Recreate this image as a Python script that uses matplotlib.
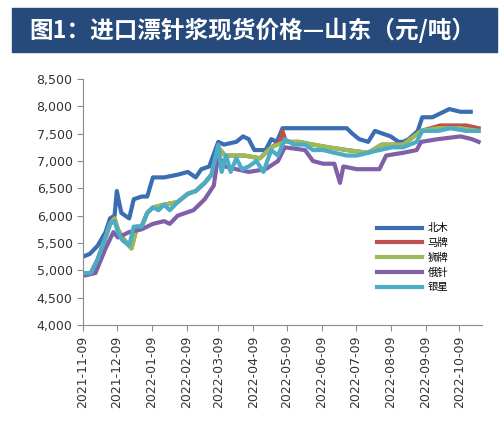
import numpy as np
import pandas as pd
import matplotlib
matplotlib.use("Agg")
import matplotlib.pyplot as plt
import matplotlib.dates as mdates
from matplotlib.patches import Rectangle
from matplotlib.ticker import FuncFormatter

# 北木
bm_dates = ["2021-11-09", "2021-11-15", "2021-11-22", "2021-11-29", "2021-12-03", "2021-12-07",
            "2021-12-09", "2021-12-13", "2021-12-20", "2021-12-24", "2021-12-31", "2022-01-05",
            "2022-01-10", "2022-01-20", "2022-02-01", "2022-02-10", "2022-02-17", "2022-02-22",
            "2022-03-01", "2022-03-09", "2022-03-14", "2022-03-25", "2022-03-31", "2022-04-05",
            "2022-04-10", "2022-04-20", "2022-04-25", "2022-04-30", "2022-05-05", "2022-05-31",
            "2022-06-15", "2022-07-01", "2022-07-06", "2022-07-12", "2022-07-20", "2022-07-26",
            "2022-08-02", "2022-08-09", "2022-08-16", "2022-08-20", "2022-08-25", "2022-09-02",
            "2022-09-06", "2022-09-15", "2022-09-25", "2022-09-30", "2022-10-10", "2022-10-19"]
bm_vals = [5250, 5300, 5450, 5700, 5950, 6000,
           6450, 6050, 5950, 6300, 6350, 6350,
           6700, 6700, 6750, 6800, 6700, 6850,
           6900, 7350, 7300, 7350, 7450, 7400,
           7200, 7200, 7400, 7350, 7600, 7600,
           7600, 7600, 7500, 7400, 7350, 7550,
           7500, 7450, 7350, 7350, 7400, 7550,
           7800, 7800, 7900, 7950, 7900, 7900]

# 银星
yx_dates = ["2021-11-09", "2021-11-16", "2021-11-22", "2021-11-29", "2021-12-03", "2021-12-07",
            "2021-12-10", "2021-12-14", "2021-12-20", "2021-12-24", "2021-12-31", "2022-01-05",
            "2022-01-10", "2022-01-15", "2022-01-20", "2022-01-25", "2022-02-01", "2022-02-10",
            "2022-02-17", "2022-02-25", "2022-03-03", "2022-03-09", "2022-03-12", "2022-03-16",
            "2022-03-20", "2022-03-25", "2022-03-30", "2022-04-05", "2022-04-12", "2022-04-18",
            "2022-04-25", "2022-05-01", "2022-05-07", "2022-05-15", "2022-05-25", "2022-06-01",
            "2022-06-10", "2022-06-20", "2022-07-01", "2022-07-10", "2022-07-20", "2022-07-30",
            "2022-08-10", "2022-08-20", "2022-09-01", "2022-09-06", "2022-09-20", "2022-10-01",
            "2022-10-15", "2022-10-26"]
yx_vals = [4950, 4950, 5200, 5600, 5850, 5900,
           5700, 5550, 5450, 5800, 5800, 6050,
           6150, 6100, 6200, 6100, 6250, 6400,
           6450, 6600, 6750, 7300, 6800, 7100,
           6800, 7050, 6850, 6900, 7000, 6800,
           7200, 7100, 7400, 7300, 7300, 7200,
           7200, 7150, 7100, 7100, 7150, 7200,
           7250, 7250, 7350, 7550, 7550, 7600,
           7550, 7550]

# 俄针
ez_dates = ["2021-11-09", "2021-11-20", "2021-11-29", "2021-12-06", "2021-12-10", "2021-12-20",
            "2021-12-31", "2022-01-10", "2022-01-20", "2022-01-25", "2022-02-01", "2022-02-15",
            "2022-02-25", "2022-03-05", "2022-03-09", "2022-03-15", "2022-03-25", "2022-04-05",
            "2022-04-20", "2022-05-01", "2022-05-07", "2022-05-25", "2022-06-01", "2022-06-10",
            "2022-06-20", "2022-06-25", "2022-06-28", "2022-07-10", "2022-07-30", "2022-08-05",
            "2022-08-20", "2022-09-01", "2022-09-05", "2022-09-20", "2022-10-10", "2022-10-20",
            "2022-10-26"]
ez_vals = [4900, 4950, 5400, 5700, 5600, 5700,
           5750, 5850, 5900, 5850, 6000, 6100,
           6300, 6550, 7100, 6900, 6850, 6800,
           6850, 7000, 7250, 7200, 7000, 6950,
           6950, 6600, 6900, 6850, 6850, 7100,
           7150, 7200, 7350, 7400, 7450, 7400,
           7350]

# 狮牌
sp_dates = ["2021-11-09", "2021-11-16", "2021-11-22", "2021-11-29", "2021-12-03", "2021-12-07",
            "2021-12-10", "2021-12-14", "2021-12-22", "2021-12-27", "2021-12-31", "2022-01-05",
            "2022-01-10", "2022-01-20", "2022-02-01", "2022-02-10", "2022-02-17", "2022-02-25",
            "2022-03-03", "2022-03-09", "2022-03-15", "2022-04-01", "2022-04-15", "2022-04-25",
            "2022-05-07", "2022-05-20", "2022-06-01", "2022-06-15", "2022-07-01", "2022-07-20",
            "2022-08-01", "2022-08-20", "2022-09-05", "2022-09-20", "2022-10-10", "2022-10-26"]
sp_vals = [4950, 4950, 5200, 5600, 5850, 5950,
           5750, 5600, 5400, 5800, 5800, 6050,
           6150, 6200, 6250, 6400, 6450, 6600,
           6750, 7250, 7100, 7100, 7050, 7250,
           7350, 7350, 7300, 7250, 7200, 7150,
           7300, 7300, 7550, 7600, 7600, 7550]

# 马牌
mp_dates = ["2021-11-09", "2021-11-16", "2021-11-22", "2021-11-29", "2021-12-03", "2021-12-07",
            "2021-12-10", "2021-12-14", "2021-12-22", "2021-12-27", "2021-12-31", "2022-01-05",
            "2022-01-10", "2022-01-20", "2022-02-01", "2022-02-10", "2022-02-17", "2022-02-25",
            "2022-03-03", "2022-03-09", "2022-03-15", "2022-04-01", "2022-04-15", "2022-04-25",
            "2022-05-03", "2022-05-05", "2022-05-08", "2022-05-20", "2022-06-01", "2022-06-15",
            "2022-07-01", "2022-07-20", "2022-08-01", "2022-08-20", "2022-09-05", "2022-09-22",
            "2022-10-15", "2022-10-26"]
mp_vals = [4950, 4950, 5200, 5600, 5850, 5950,
           5750, 5600, 5400, 5800, 5800, 6050,
           6150, 6200, 6250, 6400, 6450, 6600,
           6750, 7250, 7100, 7100, 7050, 7250,
           7350, 7550, 7350, 7350, 7300, 7250,
           7200, 7150, 7300, 7300, 7550, 7650,
           7650, 7600]

series = [("北木", bm_dates, bm_vals, "#3b6db3"),
          ("马牌", mp_dates, mp_vals, "#c0504d"),
          ("狮牌", sp_dates, sp_vals, "#9bbb59"),
          ("俄针", ez_dates, ez_vals, "#7f5fa8"),
          ("银星", yx_dates, yx_vals, "#4bacc6")]

tick_labels = ["2021-11-09", "2021-12-09", "2022-01-09", "2022-02-09", "2022-03-09", "2022-04-09",
               "2022-05-09", "2022-06-09", "2022-07-09", "2022-08-09", "2022-09-09", "2022-10-09"]

fig = plt.figure(figsize=(5.04, 4.26), dpi=100)

# title bar
fig.patches.append(Rectangle((12 / 504, 1 - 52 / 426), 485 / 504, 44 / 426,
                             transform=fig.transFigure, color="#264a7c", zorder=0))
fig.text(0.5, 1 - 30 / 426, "图1：进口漂针浆现货价格—山东（元/吨）", color="white",
         fontsize=17, fontweight="bold", ha="center", va="center",
         family=["Noto Sans CJK SC", "DejaVu Sans"])

ax = fig.add_axes([83 / 504, 1 - 325 / 426, 399 / 504, 246 / 426])
for name, d, v, c in series:
    ax.plot(pd.to_datetime(d), v, color=c, lw=3, label=name, solid_joinstyle="round")

ax.set_ylim(4000, 8500)
ax.set_yticks(np.arange(4000, 8501, 500))
ax.yaxis.set_major_formatter(FuncFormatter(lambda x, p: f"{int(x):,}"))
ax.set_xlim(pd.Timestamp("2021-11-09"), pd.Timestamp("2022-10-29"))
ax.set_xticks(pd.to_datetime(tick_labels))
ax.xaxis.set_major_formatter(mdates.DateFormatter("%Y-%m-%d"))
plt.setp(ax.get_xticklabels(), rotation=90)

for s in ["top", "right"]:
    ax.spines[s].set_visible(False)
for s in ["left", "bottom"]:
    ax.spines[s].set_color("#8c8c8c")
ax.tick_params(colors="#8c8c8c", labelcolor="#333333", labelsize=9, length=4, direction="out")

leg = ax.legend(loc="upper left", bbox_to_anchor=(368 / 504, 1 - 214 / 426),
                bbox_transform=fig.transFigure, frameon=False, handlelength=4.3,
                handletextpad=0.5, labelspacing=0.45,
                prop={"family": "Noto Sans CJK SC", "size": 7.5})

fig.savefig("out.png", dpi=100)
